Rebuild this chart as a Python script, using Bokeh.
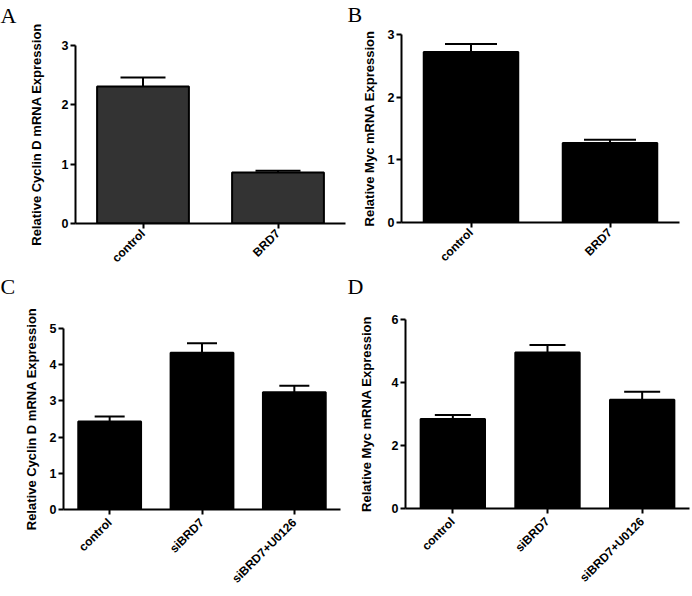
from bokeh.plotting import figure
from bokeh.models import Range1d, FactorRange, FixedTicker, Whisker, TeeHead, ColumnDataSource
from bokeh.layouts import column, row
from bokeh.embed import file_html
from bokeh.resources import INLINE
import math

# ---- data ----
cats_ab = ["control", "BRD7"]
cats_cd = ["control", "siBRD7", "siBRD7+U0126"]

cyclin_ab = [2.31, 0.86]
cyclin_ab_err = [0.15, 0.03]
myc_ab = [2.72, 1.27]
myc_ab_err = [0.13, 0.05]

cyclin_cd = [2.43, 4.33, 3.24]
cyclin_cd_err = [0.14, 0.26, 0.18]
myc_cd = [2.84, 4.95, 3.45]
myc_cd_err = [0.13, 0.24, 0.26]

label_cyclin = "Relative Cyclin D mRNA Expression"
label_myc = "Relative Myc mRNA Expression"

SANS = "Liberation Sans"
SERIF = "Liberation Serif"


def panel(cats, vals, errs, ymax, yticks, ylabel, fill, w, h, borders,
          label_standoff, xlabel_standoff, cap, letter, letter_offset, letter_lh):
    left, right, top, bottom = borders
    p = figure(x_range=FactorRange(*cats), y_range=Range1d(0, ymax),
               width=w, height=h, output_backend="svg", toolbar_location=None,
               min_border_left=left, min_border_right=right,
               min_border_top=top, min_border_bottom=bottom,
               frame_align=False)
    p.outline_line_color = None
    p.xgrid.grid_line_color = None
    p.ygrid.grid_line_color = None

    # panel letter, lifted towards the top edge by an empty second line
    p.title.text = letter + "\n"
    p.title.text_font = SERIF
    p.title.text_font_size = "22px"
    p.title.text_font_style = "normal"
    p.title.text_color = "black"
    p.title.text_line_height = letter_lh
    p.title.align = "left"
    p.title.vertical_align = "top"
    p.title.offset = letter_offset
    p.title.standoff = 0

    src = ColumnDataSource(dict(cat=cats, val=vals,
                                up=[v + e for v, e in zip(vals, errs)]))
    p.add_layout(Whisker(source=src, base="cat", lower="val", upper="up",
                         line_width=2, line_color="black",
                         lower_head=None,
                         upper_head=TeeHead(size=cap, line_width=2, line_color="black")))
    p.vbar(x="cat", top="val", bottom=0, width=0.68, source=src,
           fill_color=fill, line_color="black", line_width=2)

    for ax in (p.xaxis[0], p.yaxis[0]):
        ax.axis_line_width = 2
        ax.axis_line_color = "black"
        ax.major_tick_line_width = 2
        ax.major_tick_line_color = "black"
        ax.major_tick_in = 0
        ax.major_tick_out = 5
        ax.minor_tick_line_color = None
        ax.major_label_text_font = SANS
        ax.major_label_text_font_style = "bold"
        ax.major_label_text_color = "black"

    p.yaxis.major_label_text_font_size = "12.5px"
    p.yaxis.major_label_standoff = 2
    p.xaxis.major_label_text_font_size = "12px"
    p.xaxis.major_label_standoff = xlabel_standoff
    p.xaxis.major_label_orientation = math.pi / 4

    p.yaxis.ticker = FixedTicker(ticks=yticks)
    p.yaxis.axis_label = ylabel
    p.yaxis.axis_label_text_font = SANS
    p.yaxis.axis_label_text_font_style = "bold"
    p.yaxis.axis_label_text_font_size = "13px"
    p.yaxis.axis_label_text_color = "black"
    p.yaxis.axis_label_standoff = label_standoff
    return p


pA = panel(cats_ab, cyclin_ab, cyclin_ab_err, 3, [0, 1, 2, 3], label_cyclin, "#333333",
           346, 273, (75, 1, 45, 49), 15, 3, 45, "A", -75, 0.64)
pB = panel(cats_ab, myc_ab, myc_ab_err, 3, [0, 1, 2, 3], label_myc, "black",
           346, 273, (55, 13, 34, 51), 8, 3, 52, "B", -54, 0.22)
pC = panel(cats_cd, cyclin_cd, cyclin_cd_err, 5, [0, 1, 2, 3, 4, 5], label_cyclin, "black",
           346, 320, (63, 6, 55, 84), 8, 6, 30, "C", -63, 1.12)
pD = panel(cats_cd, myc_cd, myc_cd_err, 6, [0, 2, 4, 6], label_myc, "black",
           346, 320, (59, 3, 46, 85), 15, 6, 36, "D", -58, 0.74)

layout = column(row(pA, pB), row(pC, pD))
open("out.html", "w").write(file_html(layout, INLINE))
